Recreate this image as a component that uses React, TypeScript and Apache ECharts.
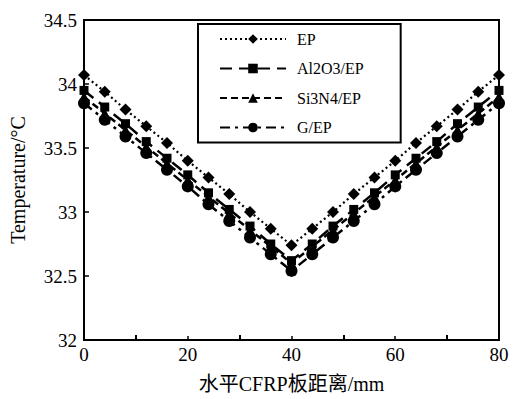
import React, { useEffect, useRef } from "react";
import * as echarts from "echarts";

const xValues = [0, 4, 8, 12, 16, 20, 24, 28, 32, 36, 40, 44, 48, 52, 56, 60, 64, 68, 72, 76, 80];
const epValues = [34.07, 33.94, 33.80, 33.67, 33.54, 33.40, 33.27, 33.14, 33.00, 32.87, 32.74, 32.87, 33.00, 33.14, 33.27, 33.40, 33.54, 33.67, 33.80, 33.94, 34.07];
const al2o3Values = [33.95, 33.82, 33.69, 33.55, 33.42, 33.29, 33.15, 33.02, 32.89, 32.75, 32.62, 32.75, 32.89, 33.02, 33.15, 33.29, 33.42, 33.55, 33.69, 33.82, 33.95];
const si3n4Values = [33.90, 33.77, 33.64, 33.51, 33.38, 33.25, 33.12, 32.99, 32.86, 32.73, 32.60, 32.73, 32.86, 32.99, 33.12, 33.25, 33.38, 33.51, 33.64, 33.77, 33.90];
const gepValues = [33.85, 33.72, 33.59, 33.46, 33.33, 33.20, 33.06, 32.93, 32.80, 32.67, 32.54, 32.67, 32.80, 32.93, 33.06, 33.20, 33.33, 33.46, 33.59, 33.72, 33.85];
const seriesNames = ["EP", "Al2O3/EP", "Si3N4/EP", "G/EP"];

const FONT = "Liberation Serif, Times New Roman, Noto Sans CJK SC, serif";

export default function App() {
  const ref = useRef<HTMLDivElement>(null);
  useEffect(() => {
    if (!ref.current) return;
    const chart = echarts.init(ref.current, null, { renderer: "svg" });
    const mk = (vals: number[]) => xValues.map((x, i) => [x, vals[i]]);
    chart.setOption({
      animation: false,
      backgroundColor: "#fff",
      grid: { left: 82, right: 14, top: 20, bottom: 56, show: true, borderColor: "#000", borderWidth: 2 },
      legend: {
        orient: "vertical",
        left: 198,
        top: 24,
        padding: [7, 37, 7, 21],
        itemWidth: 66,
        itemHeight: 12,
        itemGap: 13.5,
        borderColor: "#000",
        borderWidth: 2,
        textStyle: { fontFamily: FONT, fontSize: 16, color: "#000", padding: [0, 0, 0, 6] },
        data: seriesNames,
      },
      xAxis: {
        type: "value",
        min: 0,
        max: 80,
        interval: 20,
        name: "水平CFRP板距离/mm",
        nameLocation: "middle",
        nameGap: 34,
        nameTextStyle: { fontFamily: FONT, fontSize: 20, color: "#000" },
        axisLine: { lineStyle: { color: "#000", width: 2 } },
        axisTick: { inside: true, length: 4, lineStyle: { color: "#000", width: 1.5 } },
        minorTick: { show: true, splitNumber: 2, length: 5, lineStyle: { color: "#000", width: 2 } },
        axisLabel: { fontFamily: FONT, fontSize: 19, color: "#000", margin: 5 },
        splitLine: { show: false },
      },
      yAxis: {
        type: "value",
        min: 32,
        max: 34.5,
        interval: 0.5,
        name: "Temperature/°C",
        nameLocation: "middle",
        nameGap: 56,
        nameTextStyle: { fontFamily: FONT, fontSize: 20, color: "#000" },
        axisLine: { lineStyle: { color: "#000", width: 2 } },
        axisTick: { inside: true, length: 5, lineStyle: { color: "#000", width: 1.5 } },
        axisLabel: { fontFamily: FONT, fontSize: 19, color: "#000", margin: 7 },
        splitLine: { show: false },
      },
      series: [
        {
          name: seriesNames[0],
          type: "line",
          data: mk(epValues),
          symbol: "diamond",
          symbolSize: 12,
          itemStyle: { color: "#000" },
          lineStyle: { color: "#000", width: 2.2, type: [2, 3] },
        },
        {
          name: seriesNames[1],
          type: "line",
          data: mk(al2o3Values),
          symbol: "rect",
          symbolSize: 9,
          itemStyle: { color: "#000" },
          lineStyle: { color: "#000", width: 2.5, type: [12, 7] },
        },
        {
          name: seriesNames[2],
          type: "line",
          data: mk(si3n4Values),
          symbol: "triangle",
          symbolSize: 11,
          itemStyle: { color: "#000" },
          lineStyle: { color: "#000", width: 2.5, type: [7, 4] },
        },
        {
          name: seriesNames[3],
          type: "line",
          data: mk(gepValues),
          symbol: "circle",
          symbolSize: 12,
          itemStyle: { color: "#000" },
          lineStyle: { color: "#000", width: 2.5, type: [10, 5, 3, 5] },
        },
      ],
    });
    return () => chart.dispose();
  }, []);
  return <div ref={ref} style={{ position: "fixed", left: 0, top: 0, width: 513, height: 399 }} />;
}
